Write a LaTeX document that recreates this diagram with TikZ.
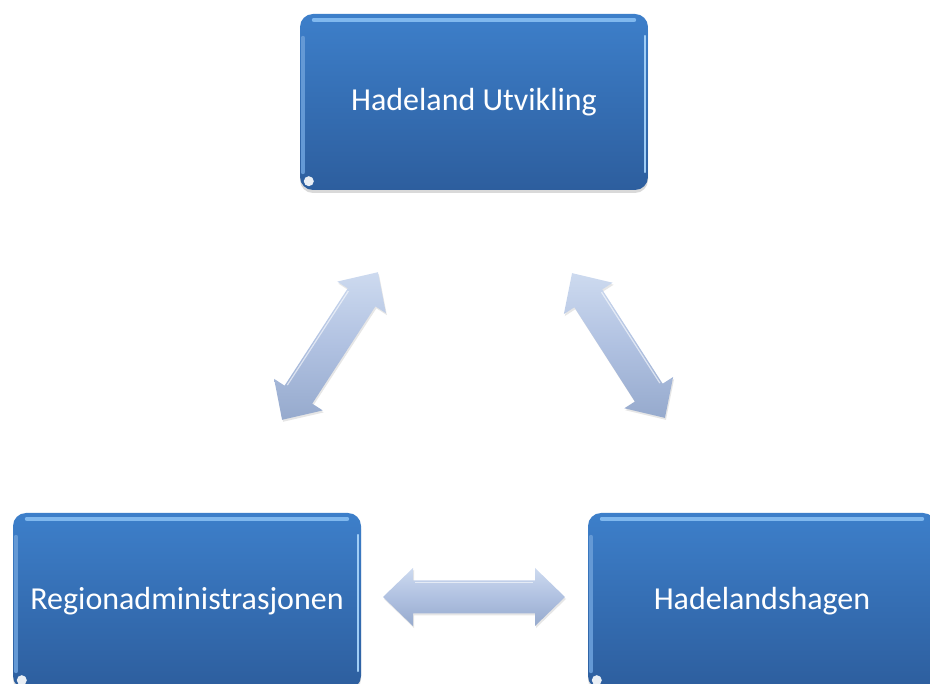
\documentclass[tikz,border=0pt]{standalone}
\usepackage{fontspec}
\setmainfont{Carlito}
\usetikzlibrary{shadows,calc}
\definecolor{boxtop}{RGB}{61,127,202}
\definecolor{boxbot}{RGB}{45,94,158}
\definecolor{boxhi}{RGB}{128,184,238}
\definecolor{boxedge}{RGB}{160,205,245}
\definecolor{arrlight}{RGB}{205,218,239}
\definecolor{arrmid}{RGB}{176,193,225}
\definecolor{arrdark}{RGB}{150,170,205}
\newcommand\dblblockarrow[3]{%
  \begin{scope}[shift={(#1)}, rotate=#2]
    \pgfmathsetmacro\hh{#3/2}
    \path[arrowbody] (-\hh,0) -- (-\hh+30,29) -- (-\hh+30,16.5) -- (\hh-30,16.5)
      -- (\hh-30,29) -- (\hh,0) -- (\hh-30,-29) -- (\hh-30,-16.5)
      -- (-\hh+30,-16.5) -- (-\hh+30,-29) -- cycle;
    \draw[white, opacity=0.6, line width=1.2pt] (-\hh+32,-14.5) -- (\hh-32,-14.5);
  \end{scope}}
\begin{document}
\begin{tikzpicture}[x=1pt,y=-1pt,
  orgbox/.style={rectangle, rounded corners=13pt, minimum width=348pt,
    minimum height=176pt, top color=boxtop, bottom color=boxbot, draw=none,
    text=white, font=\fontsize{32}{38}\selectfont, inner sep=0pt,
    drop shadow={opacity=0.3, shadow xshift=0pt, shadow yshift=-3pt}},
  hiline/.style={line width=4pt, line cap=round, draw=boxhi},
  edgeline/.style={line width=1.6pt, line cap=round, draw=boxedge},
  leftline/.style={line width=4pt, line cap=round, draw=boxtop!80!white},
  arrowbody/.style={top color=arrlight, bottom color=arrdark, middle color=arrmid,
    drop shadow={opacity=0.2, shadow xshift=1pt, shadow yshift=-2pt}}]
  \useasboundingbox (0,0) rectangle (930,684);
  \clip (0,0) rectangle (930,684);

  \node[orgbox] (hu) at (474,102) {Hadeland Utvikling};
  \node[orgbox] (ra) at (187,601) {Regionadministrasjonen};
  \node[orgbox] (hh) at (762,601) {Hadelandshagen};

  \foreach \b in {hu,ra,hh}{
    \draw[hiline] ($(\b.north west)+(14,6)$) -- ($(\b.north east)+(-14,6)$);
    \draw[leftline] ($(\b.north west)+(3,24)$) -- ($(\b.south west)+(3,-18)$);
    \draw[edgeline] ($(\b.north east)+(-3,22)$) -- ($(\b.south east)+(-3,-18)$);
    \fill[white, opacity=0.9] ($(\b.south west)+(9,-9)$) circle[radius=5pt];
  }

  \coordinate (aleft) at (330,346);
  \coordinate (aright) at (618.5,345.5);
  \coordinate (abottom) at (474,597);
  \dblblockarrow{aleft}{57}{176}
  \dblblockarrow{aright}{-57.3}{172}
  \dblblockarrow{abottom}{0}{182}
\end{tikzpicture}
\end{document}
